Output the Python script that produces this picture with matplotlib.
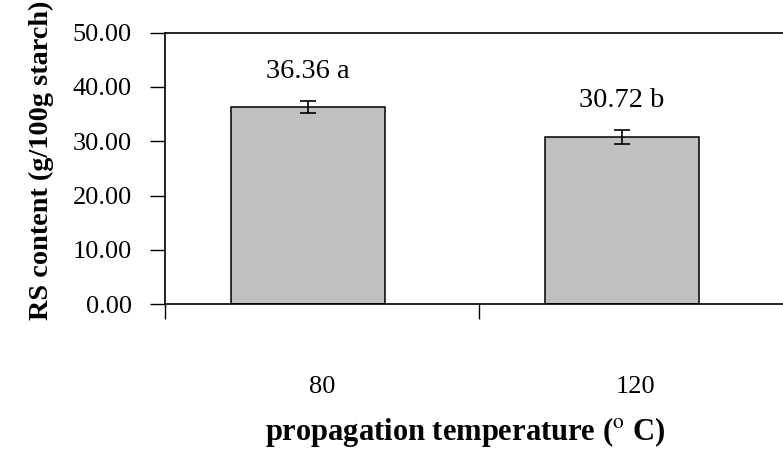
import numpy as np
import matplotlib
matplotlib.use("Agg")
import matplotlib.pyplot as plt
from matplotlib.ticker import MultipleLocator, FormatStrFormatter

# Resistant starch content by propagation temperature
temperatures = ["80", "120"]
rs_content = [36.36, 30.72]
rs_error = [1.1, 1.3]
groups = ["a", "b"]
y_ticks = [0, 10, 20, 30, 40, 50]

plt.rcParams["font.family"] = ["Liberation Serif", "DejaVu Serif"]
plt.rcParams["mathtext.fontset"] = "stix"
FS = 19

fig = plt.figure(figsize=(7.83, 4.65), dpi=100)
ax = fig.add_axes([0.2107, 0.3462, 0.802, 0.5834])

idx = np.arange(len(temperatures))
bar_x = idx + 0.455
ax.bar(bar_x, rs_content, width=0.49, color="#C0C0C0", edgecolor="black",
       linewidth=1.1, zorder=2)
ax.errorbar(bar_x, rs_content, yerr=rs_error, fmt="none", ecolor="black",
            elinewidth=1.2, capsize=5.5, capthick=1.2, zorder=3)

for x, v, e, g in zip(bar_x, rs_content, rs_error, groups):
    ax.annotate(f"{v:.2f} {g}", xy=(x, v + e), xytext=(0, 16.5),
                textcoords="offset points", ha="center", va="baseline",
                fontsize=20.5)

ax.set_xlim(0, len(temperatures))
ax.set_ylim(y_ticks[0], y_ticks[-1])
ax.set_yticks(y_ticks)
ax.yaxis.set_major_formatter(FormatStrFormatter("%.2f"))

# category labels at centres, tick marks at category boundaries
ax.set_xticks(idx + 0.5)
ax.set_xticklabels(temperatures)
ax.xaxis.set_minor_locator(MultipleLocator(1))
ax.tick_params(axis="x", which="major", length=0, pad=52, labelsize=FS)
ax.tick_params(axis="x", which="minor", length=11, width=1.0, direction="out")
ax.tick_params(axis="y", length=11, width=1.0, direction="out", pad=13,
               labelsize=FS)

for side in ["left", "top", "bottom"]:
    ax.spines[side].set_linewidth(1.2)
ax.spines["right"].set_visible(False)

ax.set_ylabel("RS content (g/100g starch)", fontsize=20.3, fontweight="bold")
ax.yaxis.set_label_coords(-0.196, 0.531)
ax.set_xlabel(r"propagation temperature ($^{\rm o}$ C)", fontsize=22,
              fontweight="bold")
ax.xaxis.set_label_coords(0.478, -0.472)
ax.xaxis.label.set_va("center")
ax.yaxis.label.set_va("center")

fig.savefig("out.png", dpi=100)
